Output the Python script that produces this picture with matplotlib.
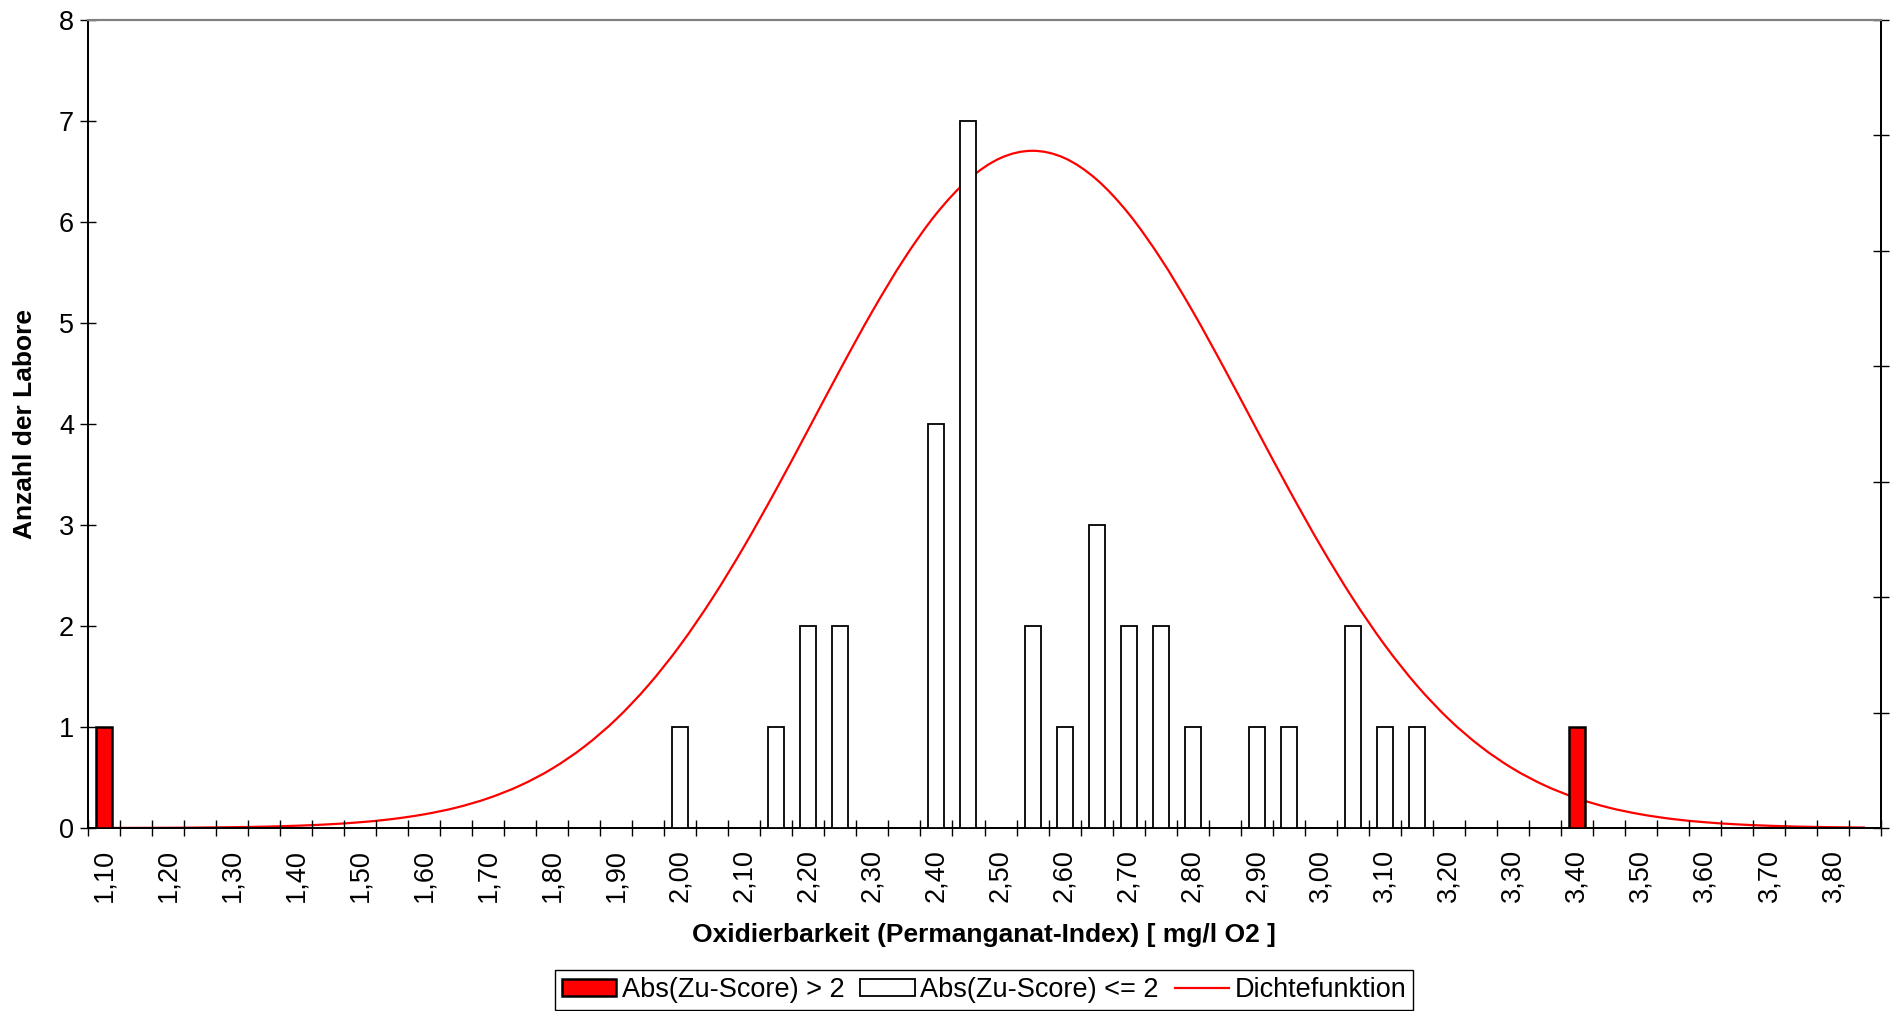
import matplotlib
matplotlib.use('Agg')
import matplotlib.pyplot as plt
from matplotlib.patches import Patch, PathPatch
from matplotlib.path import Path
from matplotlib.lines import Line2D
import numpy as np

plt.rcParams['font.family'] = ['Liberation Sans', 'DejaVu Sans']

# categories 1,10 ... 3,85 in steps of 0,05
classes = [round(1.10 + 0.05 * i, 2) for i in range(56)]

# labs with |z| > 2
out_x = [1.10, 3.40]
out_n = [1, 1]

# labs with |z| <= 2
in_x = [2.00, 2.15, 2.20, 2.25, 2.40, 2.45, 2.55, 2.60, 2.65, 2.70, 2.75,
        2.80, 2.90, 2.95, 3.05, 3.10, 3.15]
in_n = [1, 1, 2, 2, 4, 7, 2, 1, 3, 2, 2, 1, 1, 1, 2, 1, 1]

# density read at every class (secondary axis 0..1,4)
dens = [0.0001, 0.0002, 0.0004, 0.0008, 0.0014, 0.0023, 0.0039, 0.0063,
        0.0100, 0.0155, 0.0237, 0.0353, 0.0516, 0.0737, 0.1030, 0.1410,
        0.1887, 0.2473, 0.3171, 0.3980, 0.4887, 0.5874, 0.6908, 0.7951,
        0.8955, 0.9870, 1.0646, 1.1237, 1.1608, 1.1734, 1.1608, 1.1237,
        1.0646, 0.9870, 0.8955, 0.7951, 0.6908, 0.5874, 0.4887, 0.3980,
        0.3171, 0.2473, 0.1887, 0.1410, 0.1030, 0.0737, 0.0516, 0.0353,
        0.0237, 0.0155, 0.0100, 0.0063, 0.0039, 0.0023, 0.0014, 0.0008]

idx = {c: i for i, c in enumerate(classes)}
pos_out = [idx[round(v, 2)] for v in out_x]
pos_in = [idx[round(v, 2)] for v in in_x]


def smooth_path(xs, ys):
    # Excel-style smoothed line: cubic bezier segments through the points
    p = np.column_stack([xs, ys]).astype(float)
    verts = [p[0]]
    codes = [Path.MOVETO]
    n = len(p)
    for i in range(n - 1):
        p0 = p[max(i - 1, 0)]
        p1, p2 = p[i], p[i + 1]
        p3 = p[min(i + 2, n - 1)]
        verts += [p1 + (p2 - p0) / 6, p2 - (p3 - p1) / 6, p2]
        codes += [Path.CURVE4] * 3
    return Path(verts, codes)


fig = plt.figure(figsize=(18.94, 10.11), dpi=100)
ax = fig.add_axes([88/1894, 1-828/1011, 1793/1894, 808/1011])
ax2 = ax.twinx()

ax.bar(pos_in, in_n, width=0.5, color='white', edgecolor='black', linewidth=1.3, zorder=3)
ax2.add_patch(PathPatch(smooth_path(range(len(classes)), dens), facecolor='none',
                        edgecolor='red', lw=1.6, zorder=2))
ax.bar(pos_out, out_n, width=0.5, color='red', edgecolor='black', linewidth=1.8, zorder=3)

# bars above the density line
ax.set_zorder(ax2.get_zorder() + 1)
ax.patch.set_visible(False)
ax2.patch.set_visible(True)

ax.set_xlim(-0.5, len(classes) - 0.5)
ax.set_ylim(0, 8)
ax2.set_ylim(0, 1.4)

ax.set_yticks(range(0, 9))
ax.set_xticks(np.arange(-0.5, len(classes), 1.0))
ax.set_xticklabels([])
ax.set_xticks(range(0, len(classes), 2), minor=True)
ax.set_xticklabels([f"{c:.2f}".replace('.', ',') for c in classes[::2]], minor=True, rotation=90)
ax.tick_params(axis='x', which='minor', length=0, pad=15, labelsize=19.5)
ax.tick_params(axis='x', which='major', direction='inout', length=12, width=1)
ax.tick_params(axis='y', direction='inout', length=12, width=1, labelsize=19.5, pad=4)
ax2.set_yticks(np.arange(0, 1.41, 0.2))
ax2.set_yticklabels([])
ax2.tick_params(axis='y', direction='inout', length=12, width=1)

for a in (ax, ax2):
    a.spines['top'].set_color('#808080')
    a.spines['top'].set_linewidth(1.5)
    a.spines['left'].set_linewidth(1.3)
    a.spines['bottom'].set_linewidth(1.3)
    a.spines['right'].set_linewidth(1.3)

fig.text(984/1894, 1-935/1011, 'Oxidierbarkeit (Permanganat-Index) [ mg/l O2 ]',
         ha='center', va='center', fontsize=19, fontweight='bold')
fig.text(25/1894, 1-424/1011, 'Anzahl der Labore', ha='center', va='center',
         rotation=90, fontsize=19, fontweight='bold')

handles = [Patch(facecolor='red', edgecolor='black', linewidth=1.8),
           Patch(facecolor='white', edgecolor='black', linewidth=1.3),
           Line2D([], [], color='red', lw=1.6)]
labels = ['Abs(Zu-Score) > 2', 'Abs(Zu-Score) <= 2', 'Dichtefunktion']
leg = fig.legend(handles, labels, loc='center', bbox_to_anchor=(984/1894, 1-990/1011),
                 ncol=3, fontsize=19.5, frameon=True, fancybox=False, edgecolor='black',
                 framealpha=1, handlelength=2.0, handleheight=0.6, handletextpad=0.2,
                 columnspacing=0.6, borderpad=0.25, borderaxespad=0)
leg.get_frame().set_linewidth(1.0)

fig.savefig('out.png', dpi=100)
